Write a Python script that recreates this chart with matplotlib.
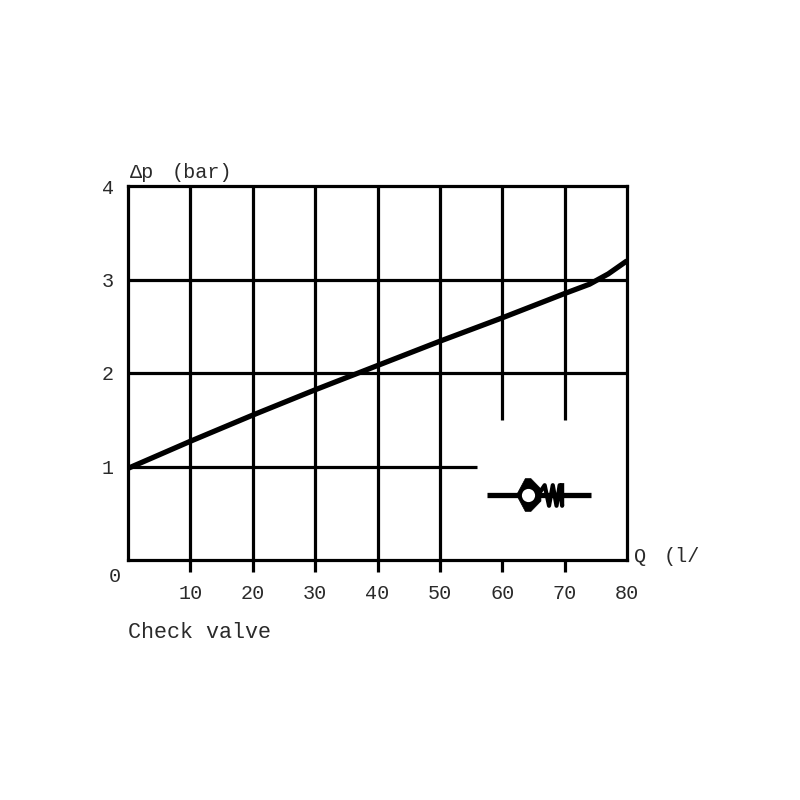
import matplotlib
matplotlib.use('Agg')
import matplotlib.pyplot as plt
from matplotlib.patches import Rectangle

plt.rcParams['font.family'] = ['Liberation Mono', 'DejaVu Sans']

flow = [0, 10, 20, 30, 40, 50, 60, 70, 74, 77, 80]
dp = [0.98, 1.27, 1.55, 1.82, 2.08, 2.34, 2.59, 2.85, 2.95, 3.06, 3.2]
x_ticks = [10, 20, 30, 40, 50, 60, 70, 80]
y_ticks = [1, 2, 3, 4]
v_full = [10, 20, 30, 40, 50]
v_short = [60, 70]
v_short_bottom = 1.5
h_full = [2, 3]
h_short = 1
h_short_end = 56

# valve symbol
sym_y = 0.695
sym_line = [57.6, 74.2]
sym_ball = 64.2
seat_x = [62.3, 63.7, 64.6, 66.2, 66.2, 64.6, 63.7, 62.3]
seat_y = [0.695, 0.87, 0.87, 0.76, 0.63, 0.52, 0.52, 0.695]
spring_x = [66.0, 66.8, 67.5, 68.1, 68.7, 69.2, 69.6, 69.6]
spring_y = [0.72, 0.8, 0.58, 0.8, 0.58, 0.8, 0.58, 0.8]

fig = plt.figure(figsize=(8, 8), dpi=100)
ax = fig.add_axes([128 / 800, 1 - 560 / 800, 499 / 800, 374 / 800])
ax.set_xlim(0, 80)
ax.set_ylim(0, 4)

for s in ax.spines.values():
    s.set_linewidth(2.3)

ax.vlines(v_full, 0, 4, color='k', lw=2.3)
ax.vlines(v_short, v_short_bottom, 4, color='k', lw=2.3)
ax.hlines(h_full, 0, 80, color='k', lw=2.3)
ax.hlines(h_short, 0, h_short_end, color='k', lw=2.3)

ax.plot(flow, dp, color='k', lw=3.8, solid_capstyle='butt')

# valve symbol
ax.plot(sym_line, [sym_y, sym_y], color='k', lw=3.8, solid_capstyle='butt')
ax.fill(seat_x, seat_y, color='k', lw=0.5)
ax.plot(spring_x, spring_y, color='k', lw=3.0)
ax.plot([sym_ball], [sym_y], 'o', ms=9.5, mfc='white', mec='none', zorder=5)

ink = '#2a2a2a'
ax.set_xticks(x_ticks)
ax.set_xticklabels([str(v) for v in x_ticks], fontsize=14.5, color=ink)
ax.tick_params(axis='x', length=8.6, width=2.3, pad=9, direction='out')
ax.xaxis.get_major_ticks()[-1].tick1line.set_markersize(0)
ax.set_yticks(y_ticks)
ax.set_yticklabels([str(v) for v in y_ticks], fontsize=14.5, color=ink)
ax.tick_params(axis='y', length=0, pad=10)

fig.text(130 / 800, 1 - 172 / 800, '\u0394p', fontsize=14.5, color=ink, va='center', ha='left')
fig.text(172 / 800, 1 - 172 / 800, '(bar)', fontsize=14.5, color=ink, va='center', ha='left')
fig.text(109 / 800, 1 - 577 / 800, '0', fontsize=14.5, color=ink, va='center', ha='left')
fig.text(128 / 800, 1 - 632 / 800, 'Check valve', fontsize=15.7, color=ink, va='center', ha='left')

# the axis title is cut off at the edge of the original image
clip = Rectangle((0, 0), 700 / 800, 1, transform=fig.transFigure)
fig.text(634 / 800, 1 - 557 / 800, 'Q', fontsize=14.5, color=ink, va='center', ha='left')
q = fig.text(664 / 800, 1 - 557 / 800, '(l/min)', fontsize=14.5, color=ink, va='center', ha='left')
q.set_clip_path(clip)
q.set_clip_on(True)

fig.savefig('out.png', dpi=100)
